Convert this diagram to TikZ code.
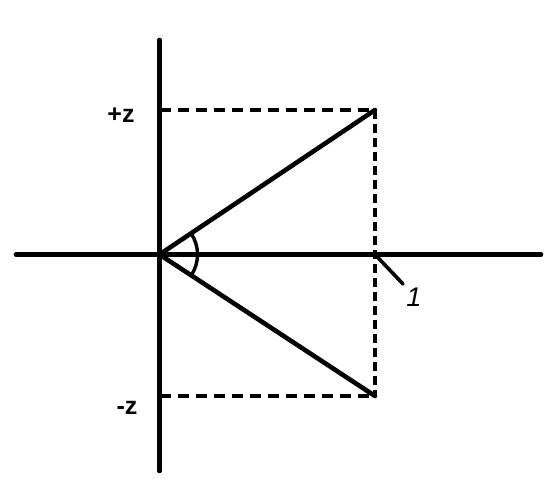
\documentclass[tikz,border=0pt]{standalone}
\usepackage{fontspec}
\setmainfont{Liberation Sans}
\usetikzlibrary{calc}
\begin{document}
\begin{tikzpicture}[x=1pt,y=-1pt,
  axis/.style={line width=4.6pt,line cap=round},
  ray/.style={line width=4.6pt,line cap=round},
  hdash/.style={line width=4.2pt,dash pattern=on 11pt off 7pt},
  vdash/.style={line width=4.2pt,dash pattern=on 9pt off 5pt},
  lbl/.style={inner sep=0pt,font=\fontsize{25}{25}\selectfont}]
\useasboundingbox[fill=white] (0,0) rectangle (557,479);
\coordinate (O) at (159.5,254.5);
\coordinate (P) at (375,110);
\coordinate (Q) at (375,396);
\coordinate (X) at (375,254.5);
\coordinate (L) at (159.5,40);
\coordinate (B) at (159.5,471);
\coordinate (W) at (16,254.5);
\coordinate (E) at (541,254.5);
\coordinate (Pz) at (159.5,110);
\coordinate (Qz) at (159.5,396);
\coordinate (T) at (403,284);
% dashed guides
\draw[hdash] (Pz) -- (P);
\draw[hdash] (Qz) -- (Q);
\draw[vdash] (P) -- (Q);
% axes
\draw[axis] (L) -- (B);
\draw[axis] (W) -- (E);
% rays
\draw[ray] (O) -- (P);
\draw[ray] (O) -- (Q);
% angle arc
\draw[line width=3.4pt] ($(O)+(34:38)$) arc[start angle=34,end angle=-34,radius=38];
% leader
\draw[line width=3.6pt,line cap=round] (X) -- (T);
% labels
\node[lbl,anchor=base] (pz) at (121,122) {\textbf{+z}};
\node[lbl,anchor=base] (mz) at (127,414) {\textbf{-z}};
\node[lbl,anchor=base,font=\fontsize{27}{27}\itshape] (one) at (414,306) {1};
\end{tikzpicture}
\end{document}
